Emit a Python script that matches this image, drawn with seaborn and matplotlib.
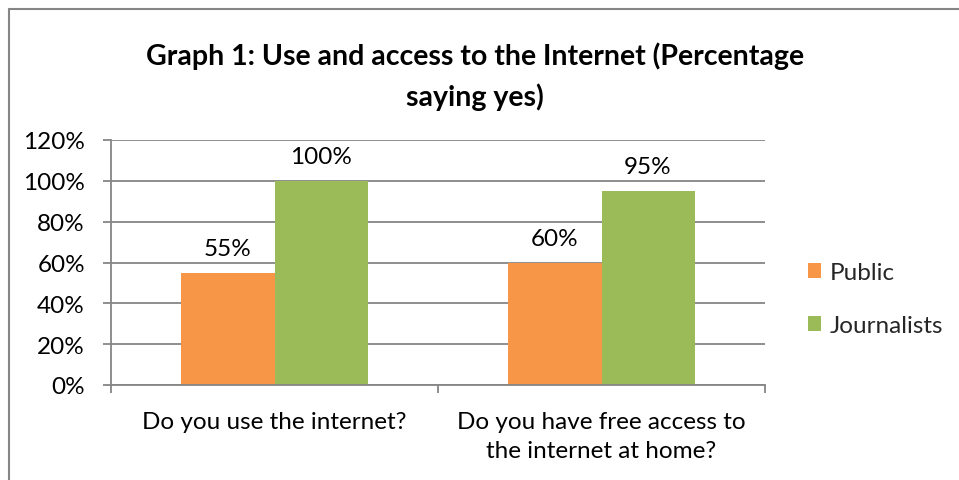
import matplotlib
matplotlib.use("Agg")
import matplotlib.pyplot as plt
import matplotlib.ticker as mticker
from matplotlib.lines import Line2D
from matplotlib.patches import Patch
import seaborn as sns
import pandas as pd

# Survey results (share answering "yes")
questions = ["Do you use the internet?",
             "Do you have free access to\nthe internet at home?"]
groups = ["Public", "Journalists"]
public_vals = [0.55, 0.60]
journalist_vals = [1.00, 0.95]
colors = ["#F79646", "#9BBB59"]

df = pd.DataFrame({
    "question": questions * 2,
    "group": [groups[0]] * 2 + [groups[1]] * 2,
    "value": public_vals + journalist_vals,
})

sns.set_theme(style="white")
plt.rcParams["font.family"] = ["Lato", "DejaVu Sans"]

W, H = 959, 481
FS = 17.5
fig = plt.figure(figsize=(W / 100, H / 100), dpi=100)
ax = fig.add_axes([111 / W, 1 - 386 / H, (765 - 111) / W, (386 - 141) / H])

sns.barplot(data=df, x="question", y="value", hue="group",
            palette=colors, width=0.569, saturation=1, ax=ax,
            legend=False, linewidth=0)

grid_c = "#868686"
ax.set_ylim(0, 1.2)
ax.set_xlim(-0.5, 1.5)
ax.yaxis.set_major_locator(mticker.MultipleLocator(0.2))
ax.yaxis.set_major_formatter(mticker.FuncFormatter(lambda v, _: f"{v*100:.0f}%"))
ax.grid(axis="y", color=grid_c, linewidth=1.3)
ax.set_axisbelow(True)
for s in ["top", "right"]:
    ax.spines[s].set_visible(False)
for s in ["left", "bottom"]:
    ax.spines[s].set_color(grid_c)
    ax.spines[s].set_linewidth(1.3)
ax.set_xlabel("")
ax.set_ylabel("")

# Category ticks sit between groups; labels are centered under each group
ax.set_xticks([-0.5, 0.5, 1.5])
ax.set_xticklabels([])
ax.set_xticks([0, 1], minor=True)
ax.set_xticklabels(questions, minor=True, fontsize=FS, color="black",
                   linespacing=1.45, va="top")
ax.tick_params(axis="x", which="major", length=5.8, width=1.3, color=grid_c,
               direction="out", bottom=True)
ax.tick_params(axis="x", which="minor", length=0, pad=19)
ax.tick_params(axis="y", length=5.8, width=1.3, color=grid_c, direction="out",
               left=True, labelsize=FS, labelcolor="black", pad=13)

# Value labels above bars
for cont in ax.containers:
    ax.bar_label(cont, labels=[f"{v*100:.0f}%" for v in cont.datavalues],
                 padding=10, fontsize=FS, color="black")

title_kw = dict(ha="center", va="center", fontsize=20.5, fontweight="bold",
                color="black")
fig.text(475 / W, 1 - 56 / H,
         "Graph 1: Use and access to the Internet (Percentage", **title_kw)
fig.text(475 / W, 1 - 97 / H, "saying yes)", **title_kw)

handles = [Patch(facecolor=c, edgecolor="none") for c in colors]
fig.legend(handles, groups, loc="center left",
           bbox_to_anchor=(808 / W, 1 - 300 / H), frameon=False,
           fontsize=FS, handlelength=0.54, handleheight=0.54,
           handletextpad=0.35, labelspacing=1.32,
           borderpad=0, borderaxespad=0)

# Chart frame
fig.add_artist(Line2D([8.5 / W, 1], [1 - 9.5 / H, 1 - 9.5 / H],
                      transform=fig.transFigure, color=grid_c, linewidth=1.5))
fig.add_artist(Line2D([8.5 / W, 8.5 / W], [0, 1 - 9.5 / H],
                      transform=fig.transFigure, color=grid_c, linewidth=1.5))

fig.savefig("out.png", dpi=100, facecolor="white")
